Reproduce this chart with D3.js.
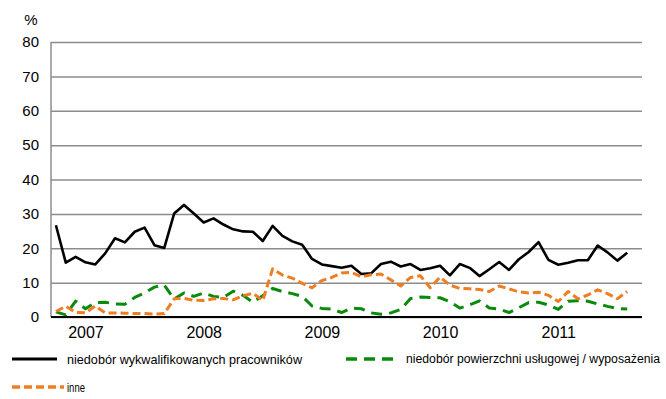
<!DOCTYPE html>
<html>
<head>
<meta charset="utf-8">
<script src="https://cdn.jsdelivr.net/npm/d3@7"></script>
<style>
  html, body { margin: 0; padding: 0; background: #fff; }
  svg { display: block; }
  text { font-family: "Liberation Sans Narrow", "Arial Narrow", "Liberation Sans", Arial, sans-serif; fill: #000; }
</style>
</head>
<body>
<svg id="chart" width="666" height="399"></svg>
<script>
// Monthly categories, Oct 2006 – Sep 2011 (last month has no data yet)
const months = [
  "2006-10","2006-11","2006-12",
  "2007-01","2007-02","2007-03","2007-04","2007-05","2007-06","2007-07","2007-08","2007-09","2007-10","2007-11","2007-12",
  "2008-01","2008-02","2008-03","2008-04","2008-05","2008-06","2008-07","2008-08","2008-09","2008-10","2008-11","2008-12",
  "2009-01","2009-02","2009-03","2009-04","2009-05","2009-06","2009-07","2009-08","2009-09","2009-10","2009-11","2009-12",
  "2010-01","2010-02","2010-03","2010-04","2010-05","2010-06","2010-07","2010-08","2010-09","2010-10","2010-11","2010-12",
  "2011-01","2011-02","2011-03","2011-04","2011-05","2011-06","2011-07","2011-08","2011-09"
];

// Share of firms reporting each barrier, %
const skilledStaff = [
  26.7, 15.8, 17.5, 15.9, 15.3, 18.5, 22.9, 21.7, 24.8, 26.0, 20.9, 20.1,
  30.1, 32.6, 30.1, 27.5, 28.7, 26.9, 25.5, 24.9, 24.8, 22.1, 26.5, 23.6,
  22.0, 21.0, 16.9, 15.3, 14.8, 14.3, 14.9, 12.5, 12.7, 15.4, 16.1, 14.7,
  15.4, 13.7, 14.2, 14.9, 12.1, 15.4, 14.3, 11.9, 13.9, 16.0, 13.7, 16.8,
  18.9, 21.8, 16.6, 15.2, 15.8, 16.5, 16.5, 20.8, 18.8, 16.4, 18.7
];
const spaceEquipment = [
  1.5, 0.6, 4.6, 2.4, 4.2, 4.3, 3.8, 3.7, 5.7, 7.0, 8.7, 9.3,
  5.2, 7.0, 6.0, 7.0, 6.0, 5.7, 7.5, 6.3, 4.3, 6.2, 8.3, 7.4,
  6.8, 6.0, 3.2, 2.5, 2.3, 1.3, 2.6, 2.4, 1.2, 0.8, 1.2, 2.2,
  5.4, 5.8, 5.7, 5.6, 4.4, 2.6, 3.5, 4.7, 2.6, 2.3, 1.3, 2.7,
  4.2, 4.3, 3.5, 2.2, 4.6, 4.7, 4.6, 3.8, 3.1, 2.5, 2.3
];
const other = [
  1.6, 3.1, 1.3, 1.2, 3.2, 1.2, 1.2, 1.1, 1.0, 1.0, 0.8, 1.0,
  5.3, 5.4, 4.9, 4.8, 5.3, 5.4, 5.0, 6.2, 6.9, 4.8, 14.0, 12.2,
  11.3, 9.8, 8.5, 10.6, 11.5, 12.8, 13.0, 11.7, 12.3, 12.5, 10.8, 9.0,
  11.5, 12.0, 8.5, 11.6, 9.3, 8.3, 8.2, 8.0, 7.4, 9.0, 8.2, 7.3,
  7.0, 7.2, 6.3, 4.5, 7.4, 5.3, 6.4, 7.9, 6.8, 5.3, 7.4
];

const yTicks = [0, 10, 20, 30, 40, 50, 60, 70, 80];
const yearTickMonths = ["2007-01", "2008-01", "2009-01", "2010-01", "2011-01"];
const yearLabels = ["2007", "2008", "2009", "2010", "2011"];

const seriesNames = [
  "niedobór wykwalifikowanych pracowników",
  "niedobór powierzchni usługowej / wyposażenia",
  "inne"
];

const plot = { left: 51, right: 642, top: 42, bottom: 317 };
const svg = d3.select("#chart");

svg.append("rect").attr("width", 666).attr("height", 399).attr("fill", "#fff");

const x = d3.scalePoint().domain(months).range([plot.left, plot.right]).padding(0.5);
const y = d3.scaleLinear().domain([0, 80]).range([plot.bottom, plot.top]);

// Value axis with horizontal gridlines
const yAxis = svg.append("g")
  .attr("transform", `translate(${plot.left},0)`)
  .call(d3.axisLeft(y).tickValues(yTicks).tickSize(-(plot.right - plot.left)).tickPadding(12));
yAxis.select(".domain").remove();
yAxis.selectAll(".tick line").attr("stroke", "#8c8c8c").attr("stroke-width", 1.5);
yAxis.selectAll(".tick text")
  .style("font-family", '"Liberation Sans", Arial, sans-serif')
  .style("font-size", "15px");

svg.append("line")
  .attr("x1", plot.left).attr("x2", plot.left)
  .attr("y1", y(80)).attr("y2", y(0))
  .attr("stroke", "#8c8c8c").attr("stroke-width", 1.5);

svg.append("text")
  .attr("x", 31).attr("y", 25)
  .attr("text-anchor", "middle")
  .style("font-family", '"Liberation Sans", Arial, sans-serif')
  .style("font-size", "15px")
  .text("%");

// Category axis: one label per year
const xAxis = svg.append("g")
  .attr("transform", `translate(0,${plot.bottom})`)
  .call(d3.axisBottom(x)
    .tickValues(yearTickMonths)
    .tickFormat(m => yearLabels[yearTickMonths.indexOf(m)])
    .tickSize(0)
    .tickPadding(10));
xAxis.select(".domain").remove();
xAxis.selectAll(".tick text").style("font-size", "16px");

svg.append("line")
  .attr("x1", plot.left).attr("x2", plot.right)
  .attr("y1", y(0)).attr("y2", y(0))
  .attr("stroke", "#000").attr("stroke-width", 2);

// Series
const line = d3.line()
  .x((d, i) => x(months[i]))
  .y(d => y(d));

const styles = [
  { data: skilledStaff, color: "#000000", width: 2.6, dash: null },
  { data: spaceEquipment, color: "#0a8a0a", width: 3, dash: "11,7" },
  { data: other, color: "#ef7d22", width: 3, dash: "8,4" }
];

styles.forEach(s => {
  svg.append("path")
    .datum(s.data)
    .attr("d", line)
    .attr("fill", "none")
    .attr("stroke", s.color)
    .attr("stroke-width", s.width)
    .attr("stroke-linejoin", "round")
    .attr("stroke-dasharray", s.dash);
});

// Legend
const legendItems = [
  { x1: 12, x2: 57, y: 359, tx: 67, tw: 235, size: 13, style: styles[0], name: seriesNames[0] },
  { x1: 346, x2: 399, y: 359, tx: 406, tw: 254, size: 12, style: styles[1], name: seriesNames[1] },
  { x1: 12, x2: 64, y: 387, tx: 67, tw: 18, size: 13, style: styles[2], name: seriesNames[2] }
];

const legend = svg.append("g");
legendItems.forEach(it => {
  legend.append("line")
    .attr("x1", it.x1).attr("x2", it.x2)
    .attr("y1", it.y).attr("y2", it.y)
    .attr("stroke", it.style.color)
    .attr("stroke-width", it.style.width + 0.6)
    .attr("stroke-dasharray", it.style.dash);
  legend.append("text")
    .attr("x", it.tx).attr("y", it.y)
    .attr("dy", "0.35em")
    .attr("textLength", it.tw)
    .attr("lengthAdjust", "spacingAndGlyphs")
    .style("font-size", it.size + "px")
    .text(it.name);
});
</script>
</body>
</html>
